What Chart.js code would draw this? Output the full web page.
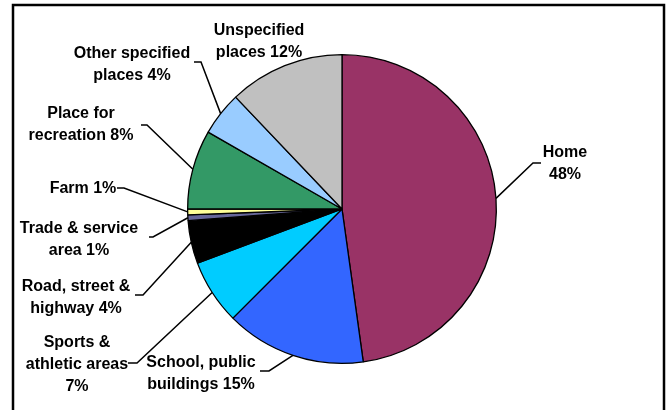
<!DOCTYPE html>
<html>
<head>
<meta charset="utf-8">
<script src="https://cdn.jsdelivr.net/npm/chart.js@4"></script>
<style>
  body { margin: 0; background: #fff; }
  canvas { display: block; }
</style>
</head>
<body>
<canvas id="grafico" width="669" height="410"></canvas>
<script>
// dados (percentagens aproximadas)
const categories = ['Home', 'School, public buildings', 'Sports & athletic areas', 'Road, street & highway',
  'Trade & service area', 'Farm', 'Place for recreation', 'Other specified places', 'Unspecified places'];
const values = [47.8, 14.7, 6.8, 4.5, 0.6, 0.6, 8.3, 4.6, 12.1];
const pctLabels = ['48%', '15%', '7%', '4%', '1%', '1%', '8%', '4%', '12%'];
const colors = ['#993366', '#3366FF', '#00CCFF', '#000000', '#666699', '#FFFF99', '#339966', '#99CCFF', '#C0C0C0'];

// posição dos rótulos: palavras por linha, centro do texto, cotovelo e fim da linha de chamada
const labelLayout = [
  { wrap: [1, 1], x: 565, y: 153, elbow: [533, 163], tail: 541 },
  { wrap: [2, 2], x: 201, y: 363, elbow: [269, 371], tail: 260 },
  { wrap: [2, 2, 1], x: 77, y: 343, elbow: [137, 363], tail: 128 },
  { wrap: [3, 2], x: 76, y: 287, elbow: [143, 295], tail: 135 },
  { wrap: [3, 2], x: 79, y: 229, elbow: [153, 237], tail: 149 },
  { wrap: [2], x: 83, y: 189, elbow: [124, 188], tail: 117 },
  { wrap: [2, 2], x: 81, y: 114, elbow: [147, 125], tail: 141 },
  { wrap: [2, 2], x: 132, y: 54, elbow: [201, 62], tail: 194 },
  { wrap: [1, 2], x: 259, y: 31, elbow: null, tail: null }
];

const moldura = {
  id: 'moldura',
  beforeDraw(chart) {
    const c = chart.ctx;
    c.save();
    c.strokeStyle = '#000';
    c.lineWidth = 2.5;
    c.strokeRect(13, 5, 651, 430);
    c.restore();
  }
};

const rotulos = {
  id: 'rotulos',
  afterDatasetsDraw(chart) {
    const c = chart.ctx;
    const arcs = chart.getDatasetMeta(0).data;
    c.save();
    c.fillStyle = '#000';
    c.strokeStyle = '#000';
    c.lineWidth = 1.5;
    c.font = 'bold 16px "Liberation Sans", Arial, sans-serif';
    c.textAlign = 'center';
    c.textBaseline = 'middle';
    arcs.forEach((arc, i) => {
      const lay = labelLayout[i];
      const p = arc.getProps(['x', 'y', 'startAngle', 'endAngle', 'outerRadius'], true);
      const mid = (p.startAngle + p.endAngle) / 2;
      if (lay.elbow) {
        c.beginPath();
        c.moveTo(p.x + Math.cos(mid) * p.outerRadius, p.y + Math.sin(mid) * p.outerRadius);
        c.lineTo(lay.elbow[0], lay.elbow[1]);
        c.lineTo(lay.tail, lay.elbow[1]);
        c.stroke();
      }
      const words = (categories[i] + ' ' + pctLabels[i]).split(' ');
      let k = 0;
      lay.wrap.forEach((n, j) => {
        const linha = words.slice(k, k + n).join(' ');
        k += n;
        c.fillText(linha, lay.x, lay.y + j * 22);
      });
    });
    c.restore();
  }
};

new Chart(document.getElementById('grafico'), {
  type: 'pie',
  data: {
    labels: categories,
    datasets: [{
      data: values,
      backgroundColor: colors,
      borderColor: '#000',
      borderWidth: 1.3
    }]
  },
  options: {
    responsive: false,
    animation: false,
    layout: { padding: { top: 54, bottom: 46, left: 187, right: 172 } },
    plugins: {
      legend: { display: false },
      tooltip: { enabled: false }
    }
  },
  plugins: [moldura, rotulos]
});
</script>
</body>
</html>
